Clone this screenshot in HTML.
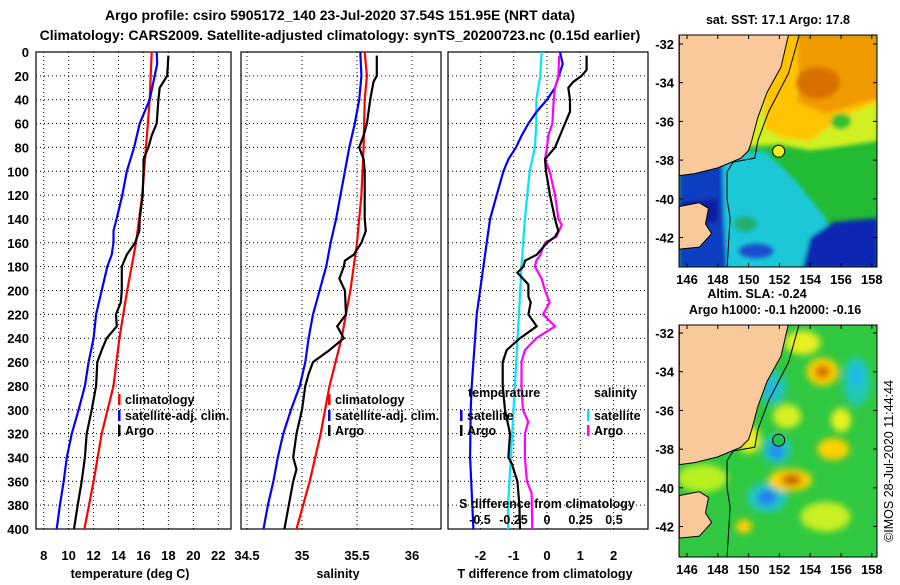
<!DOCTYPE html>
<html><head><meta charset="utf-8"><style>
body{margin:0;background:#fff;width:900px;height:580px;overflow:hidden}
svg text{font-family:"Liberation Sans",sans-serif;font-weight:bold;fill:#000}
</style></head><body>
<svg id="chart" width="900" height="580" viewBox="0 0 900 580" xmlns="http://www.w3.org/2000/svg">
<defs><filter id="blur" x="-20%" y="-20%" width="140%" height="140%"><feGaussianBlur stdDeviation="3.5"/></filter>
<filter id="blur2" x="-20%" y="-20%" width="140%" height="140%"><feGaussianBlur stdDeviation="2"/></filter></defs>
<text x="340" y="20" font-size="14" text-anchor="middle">Argo profile: csiro 5905172_140 23-Jul-2020 37.54S 151.95E (NRT data)</text>
<text x="340" y="40" font-size="14" text-anchor="middle">Climatology: CARS2009. Satellite-adjusted climatology: synTS_20200723.nc (0.15d earlier)</text>
<g id="g"></g>
</svg>
<script>
// ---- data: temperature panel ----
const tClimDepth=[0,40,80,120,160,200,240,280,320,360,400];
const tClim=[16.66,16.5,16.2,15.9,15.4,14.7,14.07,13.6,12.65,12.0,11.26];
const tSatDepth=[0,10,20,40,50,60,80,100,120,140,150,160,170,180,200,220,240,260,280,300,320,340,360,380,400];
const tSat=[17.06,17.1,16.9,16.5,16.1,15.7,15.25,14.66,14.3,13.85,13.6,13.6,13.45,13.1,12.65,12.2,12.0,11.6,11.3,10.8,10.25,9.85,9.6,9.3,9.04];
const tArgoDepth=[3,20,30,40,60,70,80,90,100,120,140,150,160,170,180,200,210,220,230,240,250,260,280,300,320,340,360,380,400];
const tArgo=[18.0,17.9,17.3,17.2,17.06,16.66,16.4,16.0,16.0,15.94,15.7,15.67,15.33,14.66,14.26,14.26,14.18,13.8,13.86,13.05,12.65,12.3,12.2,11.85,11.45,11.3,11.05,10.73,10.43];
// ---- data: salinity panel ----
const sClimDepth=[0,20,40,80,120,160,200,240,280,320,360,400];
const sClim=[35.57,35.59,35.57,35.56,35.54,35.5,35.44,35.36,35.25,35.17,35.07,34.95];
const sSatDepth=[0,20,40,60,80,100,120,140,160,180,200,220,240,260,280,300,320,340,360,380,400];
const sSat=[35.53,35.54,35.52,35.48,35.43,35.39,35.35,35.31,35.26,35.22,35.16,35.1,35.06,35.03,34.98,34.9,34.83,34.78,34.74,34.69,34.65];
const sArgoDepth=[3,20,25,40,60,70,80,90,100,140,150,160,170,175,180,190,200,220,230,240,250,260,270,280,300,320,340,350,360,380,400];
const sArgo=[35.68,35.68,35.65,35.62,35.59,35.56,35.52,35.56,35.57,35.57,35.58,35.54,35.47,35.39,35.38,35.34,35.39,35.4,35.32,35.38,35.25,35.1,35.06,35.03,35.0,34.95,34.92,34.95,34.92,34.88,34.84];
// ---- data: difference panel ----
const dTSatDepth=[0,10,30,40,50,60,70,80,90,100,120,140,160,180,200,220,240,260,280,300,340,400];
const dTSat=[0.39,0.47,0.24,0,-0.31,-0.56,-0.76,-0.93,-1.16,-1.31,-1.51,-1.71,-1.81,-1.91,-2.01,-2.11,-2.16,-2.21,-2.26,-2.29,-2.31,-2.21];
const dTArgoDepth=[3,15,20,25,30,40,50,60,70,80,90,100,120,140,150,155,160,170,175,180,185,195,205,210,220,230,240,250,260,280,300,320,340,345,360,380,400];
const dTArgo=[1.19,1.19,1.04,0.79,0.64,0.69,0.69,0.54,0.39,0.24,-0.06,-0.03,0.09,0.24,0.34,0.24,0,-0.31,-0.66,-0.71,-0.89,-0.56,-0.56,-0.49,-0.56,-0.31,-0.81,-1.21,-1.33,-1.33,-1.26,-1.11,-1.16,-1.06,-0.89,-0.83,-0.81];
const dSSatDepth=[0,20,40,60,80,100,140,180,220,260,300,340,380,400];
const dSSat=[-0.04,-0.05,-0.08,-0.08,-0.09,-0.13,-0.165,-0.19,-0.21,-0.23,-0.25,-0.27,-0.29,-0.29];
const dSArgoDepth=[3,20,30,40,60,70,80,90,100,120,140,145,155,160,170,175,180,190,200,210,220,230,240,250,260,280,300,310,320,340,360,370,400];
const dSArgo=[0.09,0.085,0.06,0.05,0.04,0.01,0,-0.015,0.02,0.06,0.085,0.11,0.07,-0.015,-0.05,-0.08,-0.09,-0.04,-0.015,0.02,-0.03,0.06,-0.08,-0.165,-0.19,-0.19,-0.18,-0.14,-0.165,-0.165,-0.15,-0.115,-0.11];
const depthTicks=[0,20,40,60,80,100,120,140,160,180,200,220,240,260,280,300,320,340,360,380,400];
const tTicks=[8,10,12,14,16,18,20,22];
const sTicks=[34.5,35,35.5,36];
const dTTicks=[-2,-1,0,1,2];
const dSTicks=[-0.5,-0.25,0,0.25,0.5];
const latTicks=[-32,-34,-36,-38,-40,-42];
const lonTicks=[146,148,150,152,154,156,158];

const NS='http://www.w3.org/2000/svg';
const G=document.getElementById('g');
function mk(tag,attrs,parent){const e=document.createElementNS(NS,tag);for(const k in attrs)e.setAttribute(k,attrs[k]);(parent||G).appendChild(e);return e;}
function txt(x,y,s,size,anchor,parent){const t=mk('text',{x:x,y:y,'font-size':size,'text-anchor':anchor||'middle'},parent);t.textContent=s;return t;}
const Y0=52,Y1=529;
const yD=d=>Y0+d*(Y1-Y0)/400;
const xT=v=>43.7+(v-8)*12.47;
const xS=v=>302+(v-35)*110;
const xDT=v=>547+v*33.3;
const xDS=v=>547+v*134;

function panel(name,x0,x1,xTicks,xf,showDepth){
  const g=mk('g',{});
  
  
  depthTicks.forEach(d=>{if(d>0&&d<400){const l=mk('line',{x1:x0,x2:x1,y1:yD(d),y2:yD(d),stroke:'#000','stroke-dasharray':'1,3','stroke-width':1},g);
    
    }
    if(showDepth){const t=txt(29,yD(d)+5,String(d),13,'end',g);
    
    }});
  xTicks.forEach(v=>{const x=xf(v);if(x>x0+2&&x<x1-2){const l=mk('line',{x1:x,x2:x,y1:Y0,y2:Y1,stroke:'#000','stroke-dasharray':'1,3','stroke-width':1},g);
    
    }
    const t=txt(x,560,String(v),13,'middle',g);
    
    });
  const r=mk('rect',{x:x0,y:Y0,width:x1-x0,height:Y1-Y0,fill:'none',stroke:'#000','stroke-width':1.2},g);
  
  
  return g;
}
function series(name,depths,vals,xf,color,g){
  const pts=depths.map((d,i)=>xf(vals[i]).toFixed(1)+','+yD(d).toFixed(1)).join(' ');
  const p=mk('polyline',{points:pts,fill:'none',stroke:color,'stroke-width':2.2},g);
  
  
}
function legend(x,y,color,label,g){
  const r=mk('rect',{x:x,y:y-8,width:2.5,height:11,fill:color},g);
  
  
  const t=txt(x+7,y+2,label,12.5,'start',g);
  
  
}
// temperature
let p1=panel('temperature-panel',36,231,tTicks,xT,true);
series('climatology-temp-line',tClimDepth,tClim,xT,'#f00',p1);
series('satellite-temp-line',tSatDepth,tSat,xT,'#00f',p1);
series('argo-temp-line',tArgoDepth,tArgo,xT,'#000',p1);
legend(118,402,'#f00','climatology',p1);legend(118,418,'#00f','satellite-adj. clim.',p1);legend(118,433,'#000','Argo',p1);
let a=txt(130,578,'temperature (deg C)',12.5);

// salinity
let p2=panel('salinity-panel',241,441,sTicks,xS,false);
series('climatology-salinity-line',sClimDepth,sClim,xS,'#f00',p2);
series('satellite-salinity-line',sSatDepth,sSat,xS,'#00f',p2);
series('argo-salinity-line',sArgoDepth,sArgo,xS,'#000',p2);
legend(328,402,'#f00','climatology',p2);legend(328,418,'#00f','satellite-adj. clim.',p2);legend(328,433,'#000','Argo',p2);
a=txt(338,578,'salinity',12.5);

// difference
let p3=panel('difference-panel',448,648,dTTicks,xDT,false);
series('salinity-satellite-diff-line',dSSatDepth,dSSat,xDS,'#00e5ff',p3);
series('temp-satellite-diff-line',dTSatDepth,dTSat,xDT,'#00f',p3);
series('salinity-argo-diff-line',dSArgoDepth,dSArgo,xDS,'#f0f',p3);
series('temp-argo-diff-line',dTArgoDepth,dTArgo,xDT,'#000',p3);
a=txt(468,397,'temperature',12.5,'start',p3);

a=txt(594,397,'salinity',12.5,'start',p3);

legend(460,418,'#00f','satellite',p3);legend(460,433,'#000','Argo',p3);
legend(587,418,'#00e5ff','satellite',p3);legend(587,433,'#f0f','Argo',p3);
a=txt(547,508,'S difference from climatology',12.5,'middle',p3);

dSTicks.forEach(v=>{const t=txt(xDS(v),524,String(v),12.5,'middle',p3);
  
  });
a=txt(545,578,'T difference from climatology',12.5);


// ---- maps ----
const land=[[145.5,-31.5],[152.6,-31.5],[152.1,-33.2],[151.2,-34.5],[150.6,-35.8],[150.2,-37],[150,-37.5],[149.5,-37.9],[148,-38.4],[146.5,-38.7],[145.5,-38.8]];
const tas=[[145.5,-40.4],[146.8,-40.2],[147.4,-40.5],[147.2,-41.3],[147.6,-41.8],[146.8,-42.5],[145.5,-42.6]];
function map(name,top,bottom,lat32,blobs,bg,markColor,blurId){
  const g=mk('g',{});
  
  
  const X=lon=>687+(lon-146)*15.4, Y=lat=>lat32+(-32-lat)*19.35;
  const cid='clip'+top;
  const cp=mk('clipPath',{id:cid},g);mk('rect',{x:679,y:top,width:198,height:bottom-top},cp);
  const inner=mk('g',{'clip-path':'url(#'+cid+')'},g);
  mk('rect',{x:679,y:top,width:198,height:bottom-top,fill:bg},inner);
  const field=mk('g',{filter:'url(#'+blurId+')'},inner);
  blobs.forEach(b=>{
    if(b.poly){const e=mk('polygon',{points:b.poly.map(p=>X(p[0])+','+Y(p[1])).join(' '),fill:b.c},field);
      
      }
    else{const e=mk('ellipse',{cx:X(b.lon),cy:Y(b.lat),rx:b.rx,ry:b.ry,fill:b.c},field);
      
      }
  });
  [land,tas].forEach(L=>{const e=mk('polygon',{points:L.map(p=>X(p[0])+','+Y(p[1])).join(' '),fill:'#f9c89b',stroke:'#000','stroke-width':1},inner);
    
    });
  const iso=mk('polyline',{points:[[153.3,-31.5],[152.6,-33.5],[151.3,-35.5],[150.6,-37],[150.4,-37.9],[149,-38.1],[148.6,-38.6],[148.6,-40],[148.8,-41],[148.6,-43.6]].map(p=>X(p[0])+','+Y(p[1])).join(' '),fill:'none',stroke:'#000','stroke-width':1},inner);
  
  
  const m=mk('circle',{cx:X(151.95),cy:Y(-37.54),r:6,fill:markColor,stroke:'#000','stroke-width':1},g);
  
  
  mk('rect',{x:679,y:top,width:198,height:bottom-top,fill:'none',stroke:'#000','stroke-width':1},g);
  latTicks.forEach(l=>{mk('line',{x1:679,x2:683,y1:Y(l),y2:Y(l),stroke:'#000'},g);mk('line',{x1:873,x2:877,y1:Y(l),y2:Y(l),stroke:'#000'},g);
    const t=txt(674,Y(l)+5,String(l),13,'end',g);
    
    });
  lonTicks.forEach(l=>{mk('line',{x1:X(l),x2:X(l),y1:top,y2:top+4,stroke:'#000'},g);mk('line',{x1:X(l),x2:X(l),y1:bottom-4,y2:bottom,stroke:'#000'},g);
    const t=txt(X(l),bottom+17,String(l),13,'middle',g);
    
    });
}
map('sst-map',35,267,44,[
  {poly:[[145.5,-38],[151,-37.5],[153,-39],[155,-41],[156,-43.6],[145.5,-43.6]],c:'#1ec8d8'},
  {poly:[[145.5,-38.3],[148.3,-38],[148.4,-41],[148.6,-43.6],[145.5,-43.6]],c:'#0a3cc0'},
  {poly:[[145.5,-40.2],[148,-40],[148,-41.2],[145.5,-41.4]],c:'#0a1ea0'},
  {poly:[[153.5,-43.6],[154,-42],[155.5,-41.2],[158.4,-41],[158.4,-43.6]],c:'#0a28b4'},
  {lon:150.5,lat:-42.7,rx:18,ry:8,c:'#1e50d0'},
  {lon:149.8,lat:-41.3,rx:12,ry:8,c:'#20b070'},
  {poly:[[149.5,-31.5],[158.4,-31.5],[158.4,-37],[156,-37.3],[154,-37.5],[152,-37.2],[150,-37.3]],c:'#d0f020'},
  {poly:[[151.2,-31.5],[158.4,-31.5],[158.4,-35],[156,-35.8],[154,-37],[152,-36.8],[151,-36.3]],c:'#ffc400'},
  {poly:[[153.2,-31.5],[158.4,-31.5],[158.4,-34.8],[155,-35.6],[153.2,-35]],c:'#f09a00'},
  {lon:154.5,lat:-34,rx:22,ry:16,c:'#d87000'},
  {lon:156,lat:-36,rx:10,ry:8,c:'#30c030'}
],'#22bb33','#f0f020','blur2');
map('sla-map',325,557,333,[
  {lon:152.5,lat:-36.3,rx:14,ry:12,c:'#d8f020'},
  {lon:153.5,lat:-32.5,rx:18,ry:12,c:'#e8f020'},
  {lon:156,lat:-36.5,rx:10,ry:12,c:'#e8f020'},
  {lon:150,lat:-37.5,rx:12,ry:14,c:'#e8f020'},
  {lon:155,lat:-41.5,rx:25,ry:15,c:'#c8f020'},
  {lon:151.5,lat:-34.8,rx:16,ry:18,c:'#20c8a0'},
  {lon:151.5,lat:-34.9,rx:8,ry:10,c:'#20b8e0'},
  {lon:151.8,lat:-38,rx:15,ry:15,c:'#20c8b0'},
  {lon:151.8,lat:-38.1,rx:8,ry:9,c:'#2090f0'},
  {lon:151.2,lat:-40.5,rx:20,ry:15,c:'#20c8c0'},
  {lon:151.2,lat:-40.5,rx:10,ry:8,c:'#2080f0'},
  {lon:157,lat:-34.5,rx:14,ry:25,c:'#20c8b0'},
  {lon:157,lat:-34.2,rx:7,ry:12,c:'#20b8e8'},
  {lon:154.8,lat:-34,rx:16,ry:14,c:'#ffd000'},
  {lon:154.8,lat:-34,rx:8,ry:7,c:'#d87000'},
  {lon:152.7,lat:-39.6,rx:22,ry:11,c:'#ffd000'},
  {lon:152.8,lat:-39.6,rx:10,ry:6,c:'#c86000'},
  {lon:155.5,lat:-38,rx:16,ry:11,c:'#ffd000'},
  {lon:149.7,lat:-42,rx:8,ry:7,c:'#ffd000'},
  {lon:147,lat:-39.5,rx:25,ry:14,c:'#b8f020'}
],'#30c840','#22c055','blur');
a=txt(778,24,'sat. SST: 17.1 Argo: 17.8',12.5);

a=txt(757,298,'Altim. SLA: -0.24',12.5);

a=txt(775,314,'Argo h1000: -0.1 h2000: -0.16',12.5);

a=mk('text',{x:0,y:0,'font-size':12.5,'text-anchor':'middle',transform:'translate(893,461) rotate(-90)',style:'font-weight:normal'});
a.textContent='©IMOS 28-Jul-2020 11:44:44';


</script>
</body></html>
